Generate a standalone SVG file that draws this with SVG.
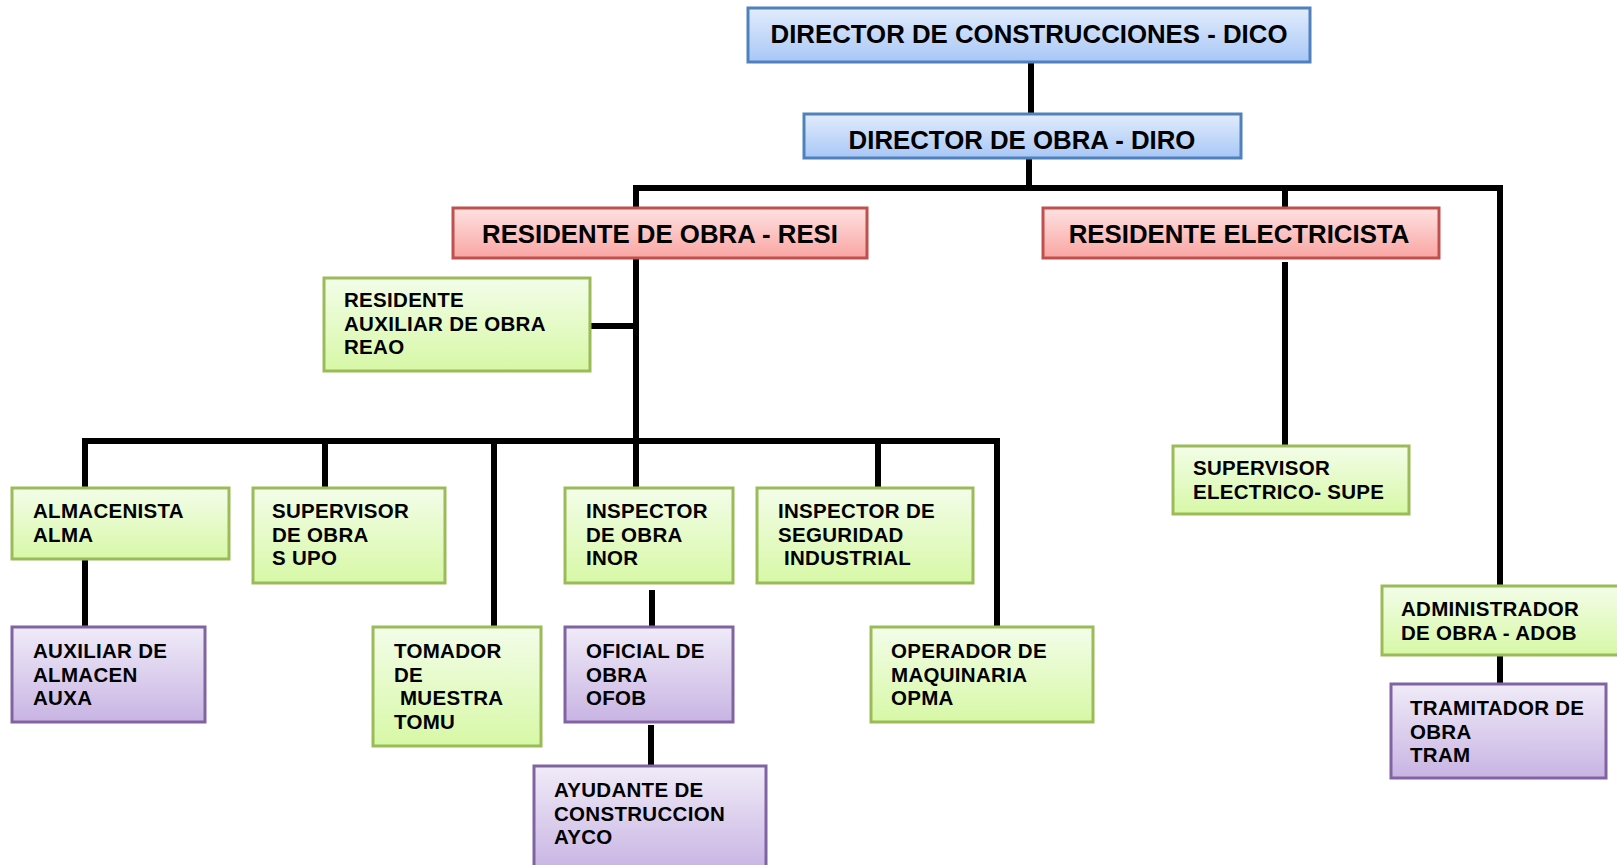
<svg xmlns="http://www.w3.org/2000/svg" width="1617" height="865" viewBox="0 0 1617 865">
<defs>
<linearGradient id="gBlue" x1="0" y1="0" x2="0" y2="1"><stop offset="0" stop-color="#e2ecfc"/><stop offset="1" stop-color="#a8c7f6"/></linearGradient>
<linearGradient id="gRed" x1="0" y1="0" x2="0" y2="1"><stop offset="0" stop-color="#fee2e1"/><stop offset="1" stop-color="#f9a5a3"/></linearGradient>
<linearGradient id="gGreen" x1="0" y1="0" x2="0" y2="1"><stop offset="0" stop-color="#f3fde9"/><stop offset="1" stop-color="#d7f8a6"/></linearGradient>
<linearGradient id="gPurple" x1="0" y1="0" x2="0" y2="1"><stop offset="0" stop-color="#f0ebf8"/><stop offset="1" stop-color="#c8b4e3"/></linearGradient>
</defs>
<style>
.blue{fill:url(#gBlue);stroke:#4f81bd;stroke-width:3}
.red{fill:url(#gRed);stroke:#c0504d;stroke-width:3}
.green{fill:url(#gGreen);stroke:#9bbb59;stroke-width:3}
.purple{fill:url(#gPurple);stroke:#8064a2;stroke-width:3}
.t{font-family:"Liberation Sans",Arial,sans-serif;font-weight:bold;font-size:25.8px;fill:#000;text-anchor:middle}
.s{font-family:"Liberation Sans",Arial,sans-serif;font-weight:bold;font-size:20.5px;letter-spacing:0.3px;fill:#000}
.c{fill:none;stroke:#000;stroke-width:6}
</style>
<rect width="1617" height="865" fill="#fff"/>
<g id="connectors">
<path class="c" d="M1031 62V114"/>
<path class="c" d="M1029 158V188"/>
<path class="c" stroke-width="4.5" d="M636 208V188H1500V586"/>
<path class="c" d="M1285 188V208"/>
<path class="c" d="M636 258V488"/>
<path class="c" d="M590 326H636"/>
<path class="c" d="M85 488V441H997V627"/>
<path class="c" d="M325 441V488"/>
<path class="c" stroke-width="8" d="M494 441V627"/>
<path class="c" d="M878 441V488"/>
<path class="c" d="M85 559V627"/>
<path class="c" d="M652 590V627"/>
<path class="c" stroke-width="8" d="M651 725V766"/>
<path class="c" d="M1285 262V446"/>
<path class="c" d="M1500 655V684"/>
</g>
<g id="dico"><rect class="blue" x="748" y="8" width="562" height="54"/><text class="t" x="1029" y="43">DIRECTOR DE CONSTRUCCIONES - DICO</text></g>
<g id="diro"><rect class="blue" x="804" y="114" width="437" height="44"/><text class="t" x="1022" y="149">DIRECTOR DE OBRA - DIRO</text></g>
<g id="resi"><rect class="red" x="453" y="208" width="414" height="50"/><text class="t" x="660" y="243">RESIDENTE DE OBRA - RESI</text></g>
<g id="rese"><rect class="red" x="1043" y="208" width="396" height="50"/><text class="t" x="1239" y="243">RESIDENTE ELECTRICISTA</text></g>
<g id="reao"><rect class="green" x="324" y="278" width="266" height="93"/><text class="s" x="344" y="307">RESIDENTE<tspan x="344" dy="23.7">AUXILIAR DE OBRA</tspan><tspan x="344" dy="23.7">REAO</tspan></text></g>
<g id="alma"><rect class="green" x="12" y="488" width="217" height="71"/><text class="s" x="33" y="518">ALMACENISTA<tspan x="33" dy="23.7">ALMA</tspan></text></g>
<g id="supo"><rect class="green" x="253" y="488" width="192" height="95"/><text class="s" x="272" y="518">SUPERVISOR<tspan x="272" dy="23.7">DE OBRA</tspan><tspan x="272" dy="23.7">S UPO</tspan></text></g>
<g id="inor"><rect class="green" x="565" y="488" width="168" height="95"/><text class="s" x="586" y="518">INSPECTOR<tspan x="586" dy="23.7">DE OBRA</tspan><tspan x="586" dy="23.7">INOR</tspan></text></g>
<g id="segu"><rect class="green" x="757" y="488" width="216" height="95"/><text class="s" x="778" y="518">INSPECTOR DE<tspan x="778" dy="23.7">SEGURIDAD</tspan><tspan x="778" dy="23.7"> INDUSTRIAL</tspan></text></g>
<g id="auxa"><rect class="purple" x="12" y="627" width="193" height="95"/><text class="s" x="33" y="658">AUXILIAR DE<tspan x="33" dy="23.7">ALMACEN</tspan><tspan x="33" dy="23.7">AUXA</tspan></text></g>
<g id="tomu"><rect class="green" x="373" y="627" width="168" height="119"/><text class="s" x="394" y="658">TOMADOR<tspan x="394" dy="23.7">DE</tspan><tspan x="394" dy="23.7"> MUESTRA</tspan><tspan x="394" dy="23.7">TOMU</tspan></text></g>
<g id="ofob"><rect class="purple" x="565" y="627" width="168" height="95"/><text class="s" x="586" y="658">OFICIAL DE<tspan x="586" dy="23.7">OBRA</tspan><tspan x="586" dy="23.7">OFOB</tspan></text></g>
<g id="ayco"><rect class="purple" x="534" y="766" width="232" height="105"/><text class="s" x="554" y="797">AYUDANTE DE<tspan x="554" dy="23.7">CONSTRUCCION</tspan><tspan x="554" dy="23.7">AYCO</tspan></text></g>
<g id="opma"><rect class="green" x="871" y="627" width="222" height="95"/><text class="s" x="891" y="658">OPERADOR DE<tspan x="891" dy="23.7">MAQUINARIA</tspan><tspan x="891" dy="23.7">OPMA</tspan></text></g>
<g id="supe"><rect class="green" x="1173" y="446" width="236" height="68"/><text class="s" x="1193" y="475">SUPERVISOR<tspan x="1193" dy="23.7">ELECTRICO- SUPE</tspan></text></g>
<g id="adob"><rect class="green" x="1382" y="586" width="240" height="69"/><text class="s" x="1401" y="616">ADMINISTRADOR<tspan x="1401" dy="23.7">DE OBRA - ADOB</tspan></text></g>
<g id="tram"><rect class="purple" x="1391" y="684" width="215" height="94"/><text class="s" x="1410" y="715">TRAMITADOR DE<tspan x="1410" dy="23.7">OBRA</tspan><tspan x="1410" dy="23.7">TRAM</tspan></text></g>
</svg>
